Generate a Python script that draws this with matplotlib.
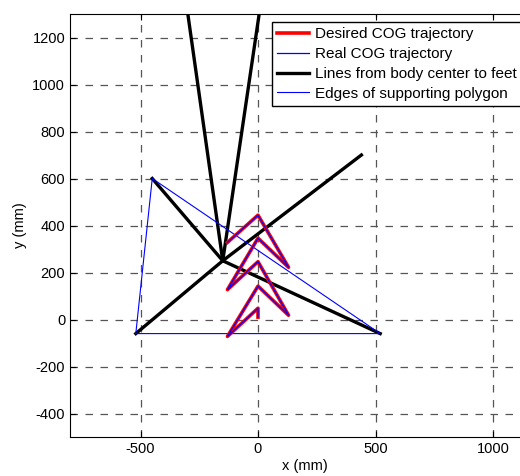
import matplotlib
matplotlib.use('Agg')
import matplotlib.pyplot as plt

plt.rcParams['font.family'] = ['Liberation Sans', 'DejaVu Sans']
plt.rcParams['font.size'] = 10.5
plt.rcParams['axes.unicode_minus'] = False

# trayectoria deseada del COG (mm)
des_x = [0, 0, -130, 0, 130, 0, -130, 0, 130, 0, -130]
des_y = [10, 48, -72, 142, 18, 246, 127, 346, 222, 444, 328]

# trayectoria real (casi igual)
real_x = [0, 0, -130, 0, 130, 0, -130, 0, 130, 0, -130]
real_y = [10, 48, -72, 142, 18, 246, 127, 346, 222, 444, 328]

# centro del cuerpo y patas
centro = (-150, 250)
patas_x = [-300, 5, 440, 520, -520, -450]
patas_y = [1310, 1300, 700, -60, -60, 600]

# poligono de soporte
pol_x = [-520, -450, 520, -520]
pol_y = [-60, 600, -60, -60]

fig = plt.figure(figsize=(5.2, 4.76), dpi=100)
ax = fig.add_axes([70/520, 39/476, 470/520, 423/476])

ax.plot(des_x, des_y, color='red', lw=2.6, label='Desired COG trajectory', zorder=3)
ax.plot(real_x, real_y, color='blue', lw=0.9, label='Real COG trajectory', zorder=4)
for i, (px, py) in enumerate(zip(patas_x, patas_y)):
    ax.plot([centro[0], px], [centro[1], py], color='black', lw=2.4,
            label='Lines from body center to feet' if i == 0 else None, zorder=2)
ax.plot(pol_x, pol_y, color='blue', lw=0.8, label='Edges of supporting polygon', zorder=2)

ax.set_xlim(-800, 1200)
ax.set_ylim(-500, 1300)
ax.set_aspect('equal')
ax.set_xticks([-500, 0, 500, 1000])
ax.set_yticks(range(-400, 1201, 200))
ax.tick_params(direction='in', length=4, top=True, right=True, labelsize=10.5)
ax.grid(True, color='#555555', linestyle=(0, (6, 6)), lw=0.9)
ax.set_axisbelow(True)
ax.set_xlabel('x (mm)', labelpad=2)
ax.set_ylabel('y (mm)', labelpad=4)

leg = fig.legend(loc='upper left', bbox_to_anchor=(272/520, 1 - 22/476),
                 bbox_transform=fig.transFigure, borderaxespad=0,
                 fancybox=False, framealpha=1, edgecolor='black',
                 handlelength=2.1, labelspacing=0.38, borderpad=0.35,
                 handletextpad=0.35, fontsize=11)
leg.get_frame().set_linewidth(1.0)

fig.savefig('out.png', dpi=100)
